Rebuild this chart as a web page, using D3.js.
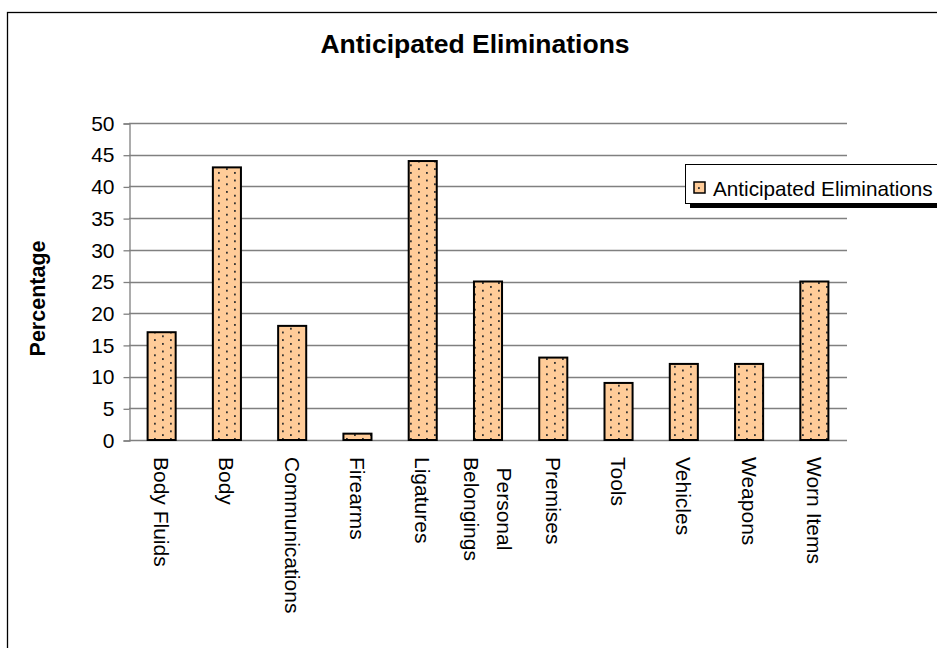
<!DOCTYPE html>
<html>
<head>
<meta charset="utf-8">
<script src="https://cdn.jsdelivr.net/npm/d3@7/dist/d3.min.js"></script>
<style>
  html, body { margin: 0; padding: 0; background: #fff; }
  svg { display: block; font-family: "Liberation Sans", Arial, sans-serif; }
</style>
</head>
<body>
<svg id="chart" width="937" height="648"></svg>
<script>
// Chart data
const categories = ["Body Fluids", "Body", "Communications", "Firearms", "Ligatures",
  "Personal Belongings", "Premises", "Tools", "Vehicles", "Weapons", "Worn Items"];
const values = [17, 43, 18, 1, 44, 25, 13, 9, 12, 12, 25];
const yTicks = [0, 5, 10, 15, 20, 25, 30, 35, 40, 45, 50];
const seriesName = "Anticipated Eliminations";
const chartTitle = "Anticipated Eliminations";
const yTitle = "Percentage";
// Category labels that wrap onto two lines
const wrappedLabels = { "Personal Belongings": ["Personal", "Belongings"] };

const svg = d3.select("#chart");
const plot = { left: 129, right: 847, top: 123, bottom: 440 };

// Dotted fill used by the bars and the legend key
const defs = svg.append("defs");
const pat = defs.append("pattern")
  .attr("id", "dots")
  .attr("patternUnits", "userSpaceOnUse")
  .attr("width", 16).attr("height", 7.6);
pat.append("rect").attr("width", 16).attr("height", 7.6).attr("fill", "#FFCC99");
pat.append("rect").attr("x", 2).attr("y", 1).attr("width", 1.8).attr("height", 1.8).attr("fill", "#2b2b2b");
pat.append("rect").attr("x", 10).attr("y", 4.8).attr("width", 1.8).attr("height", 1.8).attr("fill", "#2b2b2b");

// Outer chart frame
svg.append("rect")
  .attr("x", 7.5).attr("y", 12.5)
  .attr("width", 960).attr("height", 700)
  .attr("fill", "#fff").attr("stroke", "#000").attr("stroke-width", 1.3);

const x = d3.scaleBand()
  .domain(categories)
  .range([plot.left, plot.right])
  .paddingInner(0.57)
  .paddingOuter(0.285);

const y = d3.scaleLinear().domain([0, 50]).range([plot.bottom, plot.top]);

// Horizontal gridlines
svg.append("g")
  .selectAll("line")
  .data(yTicks.filter(d => d > 0))
  .join("line")
  .attr("x1", plot.left).attr("x2", plot.right)
  .attr("y1", d => Math.round(y(d)) + 0.5).attr("y2", d => Math.round(y(d)) + 0.5)
  .attr("stroke", "#808080").attr("stroke-width", 1.3);

// Value axis
const yAxis = svg.append("g")
  .attr("transform", `translate(${plot.left + 0.5},0.5)`)
  .call(d3.axisLeft(y).tickValues(yTicks).tickSize(6).tickPadding(9).tickFormat(d3.format("d")));
yAxis.select(".domain").attr("stroke", "#808080").attr("stroke-width", 1.3);
yAxis.selectAll(".tick line").attr("stroke", "#808080").attr("stroke-width", 1.3);
yAxis.selectAll(".tick text")
  .attr("font-size", 21).attr("fill", "#000")
  .attr("font-family", "Liberation Sans, Arial, sans-serif");

// Category axis line
svg.append("line")
  .attr("x1", plot.left).attr("x2", plot.right)
  .attr("y1", plot.bottom + 0.5).attr("y2", plot.bottom + 0.5)
  .attr("stroke", "#808080").attr("stroke-width", 1.3);

// Bars
svg.append("g")
  .selectAll("rect")
  .data(values)
  .join("rect")
  .attr("x", (d, i) => x(categories[i]))
  .attr("y", d => y(d))
  .attr("width", x.bandwidth())
  .attr("height", d => y(0) - y(d))
  .attr("fill", "url(#dots)")
  .attr("stroke", "#000").attr("stroke-width", 2);

// Category labels, rotated to read top to bottom
const labelTop = 457;
const labelG = svg.append("g").attr("font-size", 21).attr("fill", "#000");
categories.forEach(c => {
  const cx = x(c) + x.bandwidth() / 2;
  const lines = wrappedLabels[c] || [c];
  const offsets = lines.length === 1 ? [0] : [16, -17];
  const texts = lines.map(t => labelG.append("text")
    .attr("dominant-baseline", "central")
    .text(t));
  const maxLen = d3.max(texts, t => t.node().getComputedTextLength());
  texts.forEach((t, k) => {
    const len = t.node().getComputedTextLength();
    const start = labelTop + (maxLen - len) / 2;
    t.attr("transform", `translate(${cx + offsets[k]},${start}) rotate(90)`);
  });
});

// Chart title
svg.append("text")
  .attr("x", 475).attr("y", 53)
  .attr("text-anchor", "middle")
  .attr("font-size", 26.5).attr("font-weight", "bold")
  .text(chartTitle);

// Value axis title
svg.append("text")
  .attr("transform", `translate(38,${(plot.top + plot.bottom) / 2 + 17}) rotate(-90)`)
  .attr("text-anchor", "middle")
  .attr("dominant-baseline", "central")
  .attr("font-size", 21.5).attr("font-weight", "bold")
  .text(yTitle);

// Legend with drop shadow
const legend = svg.append("g");
legend.append("rect")
  .attr("x", 690).attr("y", 203).attr("width", 260).attr("height", 5)
  .attr("fill", "#000");
legend.append("rect")
  .attr("x", 685.5).attr("y", 164.5).attr("width", 270).attr("height", 39)
  .attr("fill", "#fff").attr("stroke", "#000").attr("stroke-width", 1);
legend.append("rect")
  .attr("x", 694).attr("y", 182).attr("width", 11).attr("height", 11)
  .attr("fill", "url(#dots)").attr("stroke", "#000").attr("stroke-width", 1.5);
legend.append("text")
  .attr("x", 713).attr("y", 188)
  .attr("dominant-baseline", "central")
  .attr("font-size", 20.7)
  .text(seriesName);
</script>
</body>
</html>
